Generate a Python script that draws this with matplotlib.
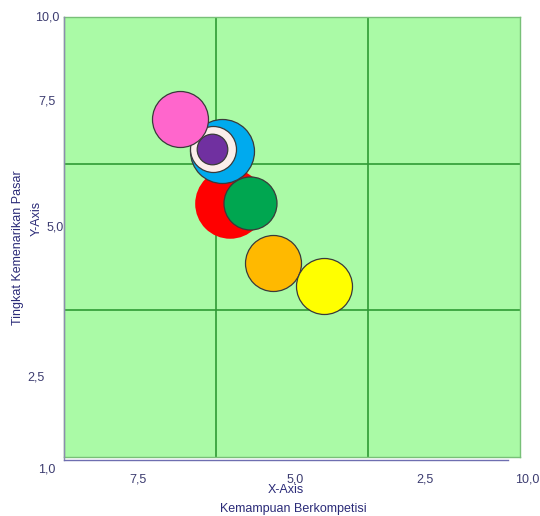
import matplotlib
matplotlib.use("Agg")
import matplotlib.pyplot as plt
from matplotlib.lines import Line2D

plt.rcParams['font.family'] = ['Liberation Sans', 'DejaVu Sans']

# bubble data: competitive strength (x), market attractiveness (y), radius value
nama = ["merah", "hijau", "biru", "putih", "ungu", "pink", "oranye", "kuning"]
kemampuan = [6.72, 6.33, 6.88, 7.06, 7.07, 7.71, 5.87, 4.87]
kemenarikan = [6.18, 6.20, 7.26, 7.30, 7.30, 7.91, 4.97, 4.50]
besar = [35, 26.5, 32, 23, 15.3, 28, 28, 28]
warna = ["#ff0000", "#00a650", "#00aaee", "#fbeeea", "#7030a0", "#ff66cc", "#ffb900", "#ffff00"]
tepi = [False, True, True, True, True, True, True, True]

x_tick_labels = ["7,5", "5,0", "2,5", "10,0"]
y_tick_labels = ["10,0", "7,5", "5,0", "2,5", "1,0"]

W, H = 540, 516
txt = "#2b2b78"


def px(x, y):
    return x / W, 1 - y / H


fig = plt.figure(figsize=(W / 100, H / 100), dpi=100)
ax = fig.add_axes([64 / W, (H - 457) / H, 456 / W, 440 / H])
ax.set_facecolor("#aafaa6")
ax.set_xlim(10, 1)
ax.set_ylim(1, 10)
for s in ax.spines.values():
    s.set_color("#78c078")
    s.set_linewidth(1)
ax.set_xticks([])
ax.set_yticks([])

# matrix grid lines (thirds)
for v in [7, 4]:
    ax.axvline(v, color="#2f9a35", lw=1.2, zorder=1)
    ax.axhline(v, color="#2f9a35", lw=1.2, zorder=1)

for i in range(len(nama)):
    d = besar[i] * 2 * 0.72
    ax.scatter(kemampuan[i], kemenarikan[i], s=d ** 2, color=warna[i],
               edgecolors="#3a3a3a" if tepi[i] else "none",
               linewidths=0.9, zorder=3 + i)

# outer axis lines
fig.add_artist(Line2D([64 / W, 64 / W], [1 - 17 / H, 1 - 460 / H],
                      color="#8c8cae", lw=1))
fig.add_artist(Line2D([64 / W, 508 / W], [1 - 460 / H, 1 - 460 / H],
                      color="#6e6eb0", lw=1))

# tick labels
x_pos = [138, 295, 425, 527]
for lab, xp in zip(x_tick_labels, x_pos):
    fig.text(*px(xp, 479), lab, ha="center", va="center", fontsize=9, color="#3c3c70")
y_pos = [(47, 17), (47, 101), (55, 228), (36, 378), (47, 469)]
for lab, (xp, yp) in zip(y_tick_labels, y_pos):
    fig.text(*px(xp, yp), lab, ha="center", va="center", fontsize=9, color="#3c3c70")

fig.text(*px(286, 490), "X-Axis", ha="center", va="center", fontsize=9, color=txt)
fig.text(*px(293, 509), "Kemampuan Berkompetisi", ha="center", va="center", fontsize=9, color=txt)
fig.text(*px(37, 218), "Y-Axis", ha="center", va="center", fontsize=9, color=txt, rotation=90)
fig.text(*px(18, 248), "Tingkat Kemenarikan Pasar", ha="center", va="center", fontsize=9,
         color=txt, rotation=90)

fig.savefig("out.png", dpi=100)
